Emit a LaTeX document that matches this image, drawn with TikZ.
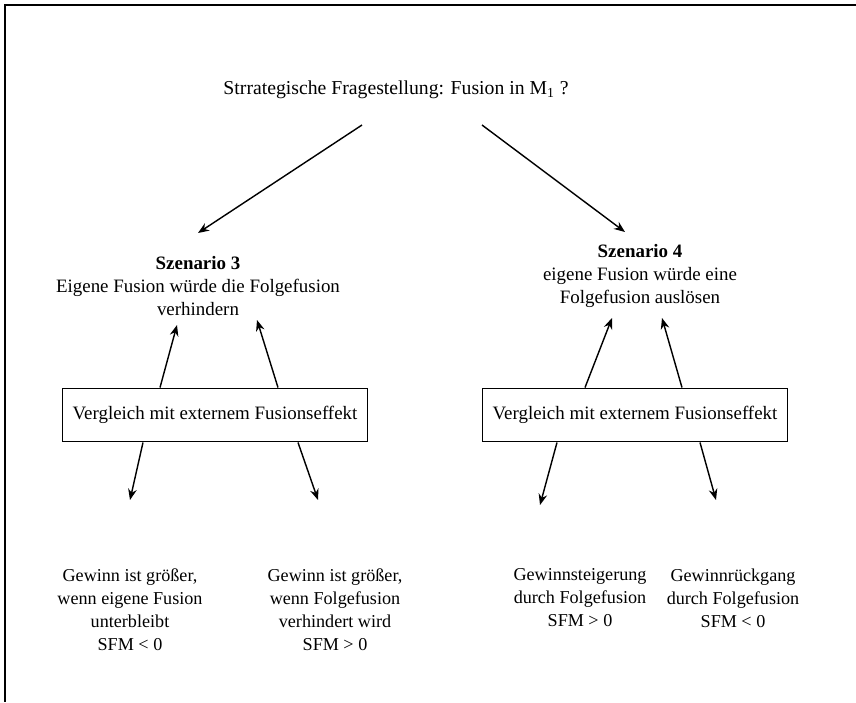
\documentclass[tikz,border=0pt]{standalone}
\usepackage{fontspec}
\setmainfont{Liberation Serif}
\usetikzlibrary{arrows.meta, calc}
\tikzstyle{arrow} = [line width=0.9pt,->,>={Stealth[length=7pt,width=5.5pt]}]
\tikzstyle{txt} = [align=center, inner sep=0pt, font=\fontsize{12}{14.6}\selectfont]
\tikzstyle{restxt} = [align=center, inner sep=0pt, font=\fontsize{11.5}{14.6}\selectfont]
\tikzstyle{cmpbox} = [draw, line width=0.8pt, minimum width=193pt, minimum height=34pt, font=\fontsize{12}{14.6}\selectfont]

\begin{document}
\begin{tikzpicture}[x=0.634pt, y=-0.634pt]
        \useasboundingbox (0,0) rectangle (856,702);
        \draw[line width=1pt] (856,5) -- (5,5) -- (5,702);

        \node at (396,90) [font=\fontsize{12.5}{15}\selectfont](title) {Strrategische Fragestellung: Fusion in M\textsubscript{1} ?};

        \node at (198,286) [txt](scen3) {\textbf{Szenario 3}\\Eigene Fusion würde die Folgefusion\\verhindern};
        \node at (640,276) [txt](scen4) {\textbf{Szenario 4}\\eigene Fusion würde eine\\Folgefusion auslösen};

        \node at (215,415) [cmpbox](box3) {Vergleich mit externem Fusionseffekt};
        \node at (635,415) [cmpbox](box4) {Vergleich mit externem Fusionseffekt};

        \node at (130,610) [restxt](res1) {Gewinn ist größer,\\wenn eigene Fusion\\unterbleibt\\SFM < 0};
        \node at (335,610) [restxt](res2) {Gewinn ist größer,\\wenn Folgefusion\\verhindert wird\\SFM > 0};
        \node at (580,598) [restxt](res3) {Gewinnsteigerung\\durch Folgefusion\\SFM > 0};
        \node at (733,598) [restxt](res4) {Gewinnrückgang\\durch Folgefusion\\SFM < 0};

        \draw[arrow] ($(title.center)+(-34,35)$) -- ($(scen3.center)+(0,-53)$);
        \draw[arrow] ($(title.center)+(86,35)$) -- ($(scen4.center)+(-15,-44)$);

        \draw[arrow] ($(box3.north)+(-55,0)$) -- ($(scen3.center)+(-21,39)$);
        \draw[arrow] ($(box3.north)+(63,0)$) -- ($(scen3.center)+(59,34)$);
        \draw[arrow] ($(box4.north)+(-50,0)$) -- ($(scen4.center)+(-28,42)$);
        \draw[arrow] ($(box4.north)+(47,0)$) -- ($(scen4.center)+(22,42)$);

        \draw[arrow] ($(box3.south)+(-72,0)$) -- ($(res1.center)+(0,-110)$);
        \draw[arrow] ($(box3.south)+(83,0)$) -- ($(res2.center)+(-17,-110)$);
        \draw[arrow] ($(box4.south)+(-78,0)$) -- ($(res3.center)+(-40,-93)$);
        \draw[arrow] ($(box4.south)+(65,0)$) -- ($(res4.center)+(-17,-98)$);

    \end{tikzpicture}
\end{document}
